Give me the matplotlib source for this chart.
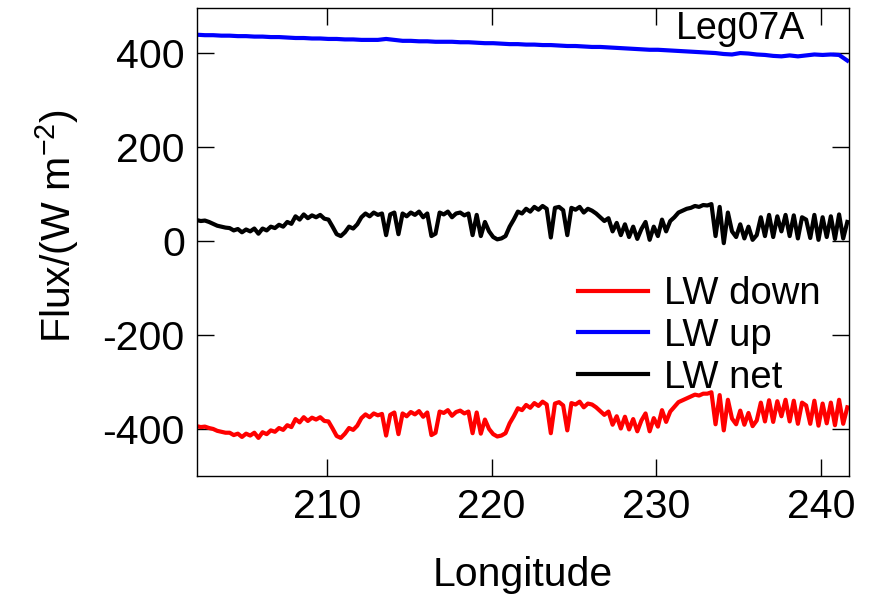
"""Longwave flux components along Leg07A."""

import matplotlib
matplotlib.use("Agg")
import matplotlib.pyplot as plt
import numpy as np

plt.rcParams["font.family"] = ["Liberation Sans", "DejaVu Sans"]
plt.rcParams["mathtext.fontset"] = "custom"
plt.rcParams["mathtext.rm"] = "Liberation Sans"
plt.rcParams["mathtext.it"] = "Liberation Sans"
plt.rcParams["axes.unicode_minus"] = False

# values, evenly spaced in longitude
LON_START, LON_END = 202.1, 241.6

lw_up = [
    438, 437, 437, 436, 436, 435, 435, 434, 434, 433,
    433, 432, 431, 431, 430, 430, 429, 429, 428, 428,
    427, 427, 427, 429, 427, 425, 425, 424, 424, 423,
    423, 423, 422, 422, 421, 420, 420, 419, 418, 418,
    417, 417, 416, 416, 415, 414, 414, 413, 412, 412,
    411, 410, 409, 408, 407, 406, 406, 405, 404, 403,
    402, 401, 400, 399, 397, 396, 399, 398, 396, 395,
    393, 392, 394, 392, 394, 396, 395, 396, 395, 383,
]

lw_net = [
    44, 42, 43, 40, 36, 32, 30, 28, 27, 22, 25, 18,
    24, 20, 26, 15, 26, 22, 30, 27, 34, 30, 40, 36,
    52, 45, 56, 48, 54, 50, 55, 47, 45, 30, 14, 10,
    18, 30, 26, 35, 50, 58, 52, 60, 55, 58, 12, 56,
    60, 14, 58, 52, 60, 55, 62, 50, 58, 10, 15, 60,
    56, 62, 50, 58, 60, 54, 58, 12, 55, 10, 40, 20,
    8, 3, 5, 10, 30, 45, 62, 58, 68, 62, 72, 66,
    74, 68, 7, 70, 72, 65, 12, 70, 66, 72, 60, 68,
    64, 58, 50, 42, 48, 20, 38, 12, 35, 8, 30, 4,
    25, 40, 2, 30, 10, 45, 20, 42, 50, 60, 64, 68,
    70, 74, 72, 76, 75, 78, 10, 72, -5, 60, 20, 8,
    35, 5, 30, 2, 12, 50, 10, 55, 8, 52, 20, 55,
    10, 54, 5, 50, 45, 6, 55, 2, 50, 8, 52, 4,
    56, 5, 40,
]

lw_down = [
    -394, -396, -395, -398, -400, -404, -406, -408, -408, -413, -410, -417,
    -410, -414, -408, -419, -407, -411, -403, -406, -398, -402, -392, -396,
    -379, -386, -375, -383, -376, -380, -375, -383, -384, -399, -415, -419,
    -410, -398, -402, -393, -377, -369, -375, -367, -371, -368, -414, -370,
    -365, -411, -367, -373, -364, -369, -362, -374, -365, -413, -408, -363,
    -366, -360, -372, -364, -361, -367, -363, -409, -365, -410, -380, -400,
    -411, -416, -414, -409, -388, -373, -356, -360, -349, -355, -345, -351,
    -342, -348, -409, -346, -343, -350, -403, -345, -348, -342, -354, -346,
    -348, -354, -362, -370, -363, -391, -373, -399, -374, -401, -379, -405,
    -382, -367, -405, -377, -395, -360, -385, -363, -353, -343, -339, -335,
    -331, -327, -329, -325, -325, -322, -390, -328, -403, -338, -378, -390,
    -361, -391, -366, -394, -382, -344, -384, -339, -385, -341, -373, -338,
    -384, -340, -389, -344, -350, -389, -340, -393, -346, -388, -344, -392,
    -338, -389, -354,
]

x_ticks = [210, 220, 230, 240]
y_ticks = [-400, -200, 0, 200, 400]

lon_up = np.linspace(LON_START, LON_END, len(lw_up))
lon_net = np.linspace(LON_START, LON_END, len(lw_net))
lon_down = np.linspace(LON_START, LON_END, len(lw_down))

fig = plt.figure(figsize=(8.71, 5.98), dpi=100)
ax = fig.add_axes([0.2258, 0.204, 0.7489, 0.782])

ax.plot(lon_down, lw_down, color="red", lw=3.0, label="LW down")
ax.plot(lon_up, lw_up, color="blue", lw=3.0, label="LW up")
ax.plot(lon_net, lw_net, color="black", lw=3.0, label="LW net")

ax.set_xlim(202.1, 241.7)
ax.set_ylim(-500, 494)
ax.set_xticks(x_ticks)
ax.set_yticks(y_ticks)
ax.tick_params(direction="in", length=12, width=1, top=True, right=True,
               labelsize=29.5, pad=8.5)
for side in ax.spines.values():
    side.set_linewidth(1)

ax.set_xlabel("Longitude", fontsize=29.5, labelpad=21.5)
ax.set_ylabel("Flux/(W m$^{-2}$)", fontsize=29.5)
ax.yaxis.set_label_coords(-0.1774, 0.535)

ax.text(0.9326, 0.995, "Leg07A", transform=ax.transAxes, ha="right",
        va="top", fontsize=27)

ax.legend(loc="upper left", bbox_to_anchor=(0.5846, 0.4276), frameon=False,
          fontsize=27.5, handlelength=1.82, handletextpad=0.42,
          labelspacing=0.15, borderpad=0, borderaxespad=0)

fig.savefig("out.png", dpi=100)
